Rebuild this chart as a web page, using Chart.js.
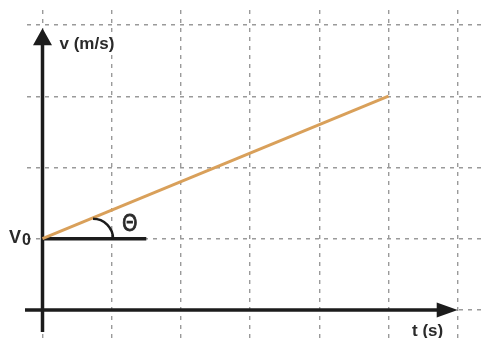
<!DOCTYPE html>
<html>
<head>
<meta charset="utf-8">
<script src="https://cdn.jsdelivr.net/npm/chart.js@4.4.1/dist/chart.umd.min.js"></script>
<style>
  body { margin: 0; background: #fff; }
  #wrap { width: 482px; height: 338px; }
</style>
</head>
<body>
<div id="wrap"><canvas id="velocityChart"></canvas></div>
<script>
// grid positions (one square per unit)
const timeTicks = [0, 1, 2, 3, 4, 5, 6];
const speedTicks = [0, 1, 2, 3, 4];

// v-t line: starts at v0, rises linearly
const lineTimes = [0, 5];
const lineSpeeds = [1, 3];

// short horizontal reference at v0
const v0 = 1;
const v0Times = [0, 1.5];

const inkColor = "#1c1c1c";
const textColor = "#2a2a2a";
const gridColor = "#9a9a9a";
const lineColor = "#d9a05a";

function gridScale(min, max, values) {
    return {
        type: "linear",
        min: min,
        max: max,
        afterBuildTicks: scale => { scale.ticks = values.map(v => ({ value: v })); },
        ticks: { display: false },
        grid: { color: gridColor, lineWidth: 1.4, drawTicks: false },
        border: { display: false, dash: [4, 5] }
    };
}

// axes with arrowheads, drawn under the lines
const axisArrows = {
    id: "axisArrows",
    beforeDatasetsDraw(chart) {
        const { ctx, scales: { x, y } } = chart;
        const x0 = x.getPixelForValue(0);
        const y0 = y.getPixelForValue(0);
        const xTip = x.getPixelForValue(6);
        const yTip = y.getPixelForValue(3.955);

        ctx.save();
        ctx.strokeStyle = inkColor;
        ctx.fillStyle = inkColor;
        ctx.lineWidth = 3.5;
        ctx.beginPath();
        ctx.moveTo(x.left - 2, y0);
        ctx.lineTo(xTip - 12, y0);
        ctx.moveTo(x0, y.getPixelForValue(-0.31));
        ctx.lineTo(x0, yTip + 10);
        ctx.stroke();

        ctx.beginPath();
        ctx.moveTo(xTip, y0);
        ctx.lineTo(xTip - 21, y0 - 7.5);
        ctx.lineTo(xTip - 21, y0 + 7.5);
        ctx.closePath();
        ctx.moveTo(x0, yTip);
        ctx.lineTo(x0 - 9.5, yTip + 17);
        ctx.lineTo(x0 + 9.5, yTip + 17);
        ctx.closePath();
        ctx.fill();
        ctx.restore();
    }
};

// angle mark, theta and axis captions
const annotations = {
    id: "annotations",
    afterDatasetsDraw(chart) {
        const { ctx, scales: { x, y } } = chart;
        const x0 = x.getPixelForValue(0);
        const yV0 = y.getPixelForValue(v0);
        const yTip = y.getPixelForValue(3.955);

        ctx.save();
        ctx.strokeStyle = inkColor;
        ctx.lineWidth = 2.5;
        ctx.beginPath();
        ctx.arc(x.getPixelForValue(0.73), yV0, 20, -Math.PI / 2, 0);
        ctx.stroke();

        ctx.fillStyle = textColor;
        ctx.strokeStyle = textColor;
        ctx.textBaseline = "alphabetic";

        // theta: regular glyph, thickened with a thin outline
        ctx.save();
        ctx.translate(x.getPixelForValue(1.26), yV0 - 8);
        ctx.scale(0.84, 1);
        ctx.textAlign = "center";
        ctx.font = "23px 'Liberation Sans', Arial, sans-serif";
        ctx.lineWidth = 0.9;
        ctx.fillText("\u0398", 0, 0);
        ctx.strokeText("\u0398", 0, 0);
        ctx.restore();

        ctx.textAlign = "left";
        ctx.font = "bold 17px 'Liberation Sans', Arial, sans-serif";
        ctx.fillText("v (m/s)", x0 + 17, yTip + 21);
        ctx.fillText("t (s)", 412, 336);

        ctx.font = "bold 18px 'Liberation Sans', Arial, sans-serif";
        ctx.fillText("V", 9, yV0 + 4);
        ctx.font = "bold 16px 'Liberation Sans', Arial, sans-serif";
        ctx.fillText("0", 22, yV0 + 6);
        ctx.restore();
    }
};

new Chart("velocityChart", {
    type: "line",
    data: {
        datasets: [{
            data: lineTimes.map((t, i) => ({ x: t, y: lineSpeeds[i] })),
            borderColor: lineColor,
            borderWidth: 3,
            pointRadius: 0
        }, {
            data: v0Times.map(t => ({ x: t, y: v0 })),
            borderColor: inkColor,
            borderWidth: 3.5,
            pointRadius: 0
        }]
    },
    options: {
        responsive: true,
        maintainAspectRatio: false,
        animation: false,
        events: [],
        layout: { padding: { left: 27, top: 10, right: 0, bottom: 0 } },
        plugins: { legend: { display: false }, tooltip: { enabled: false } },
        scales: {
            x: gridScale(-0.224, 6.351, timeTicks),
            y: gridScale(-0.393, 4.21, speedTicks)
        }
    },
    plugins: [axisArrows, annotations]
});
</script>
</body>
</html>
